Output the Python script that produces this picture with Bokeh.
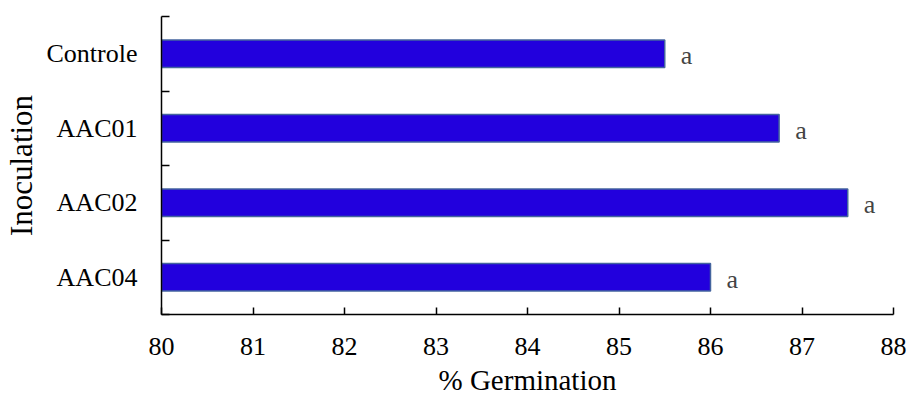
from bokeh.plotting import figure
from bokeh.models import ColumnDataSource, FixedTicker, Range1d
from bokeh.core.properties import value
from bokeh.embed import file_html
from bokeh.resources import INLINE

categories = ["Controle", "AAC01", "AAC02", "AAC04"]
germination = [85.5, 86.75, 87.5, 86.0]
letters = ["a", "a", "a", "a"]
x_ticks = [80, 81, 82, 83, 84, 85, 86, 87, 88]
x_title = "% Germination"
y_title = "Inoculation"

n = len(categories)
ypos = [n - 0.5 - i for i in range(n)]
x0, x1 = x_ticks[0], x_ticks[-1]

src = ColumnDataSource(dict(y=ypos, v=germination, cat=categories, lab=letters))

FONT = "Liberation Serif"

p = figure(width=909, height=398, output_backend="svg", toolbar_location=None,
           x_range=Range1d(x0, x1), y_range=Range1d(0, n),
           min_border_left=161, min_border_right=16, min_border_top=16, min_border_bottom=84)
p.outline_line_color = None
p.xgrid.grid_line_color = None
p.ygrid.grid_line_color = None
p.background_fill_color = "white"

p.hbar(y="y", left=x0, right="v", height=0.37, source=src,
       fill_color="#2200DD", line_color="#44649E", line_width=1.5)

p.text(x="v", y="y", text="lab", source=src, x_offset=16, y_offset=2,
       text_font=value(FONT), text_font_size="26px", text_color="#444444",
       text_align="left", text_baseline="middle")

# x axis
xa = p.xaxis[0]
xa.ticker = FixedTicker(ticks=x_ticks)
xa.axis_label = x_title
xa.axis_label_text_font = FONT
xa.axis_label_text_font_style = "normal"
xa.axis_label_text_font_size = "29px"
xa.axis_label_text_color = "black"
xa.axis_label_text_line_height = 0.25
xa.axis_label_standoff = 6
xa.major_label_text_font = FONT
xa.major_label_text_font_size = "26px"
xa.major_label_text_color = "black"
xa.major_label_standoff = 23
xa.major_tick_in = 7
xa.major_tick_out = 0
xa.minor_tick_line_color = None
xa.axis_line_width = 1.5
xa.major_tick_line_width = 1.5
xa.axis_line_color = "black"

# y axis
ya = p.yaxis[0]
ya.ticker = FixedTicker(ticks=ypos, minor_ticks=list(range(n + 1)))
ya.major_label_overrides = {y: c for y, c in zip(ypos, categories)}
ya.axis_label = y_title
ya.axis_label_text_font = FONT
ya.axis_label_text_font_style = "normal"
ya.axis_label_text_font_size = "31px"
ya.axis_label_text_color = "black"
ya.axis_label_standoff = 5
ya.major_label_text_font = FONT
ya.major_label_text_font_size = "26px"
ya.major_label_text_color = "black"
ya.major_label_standoff = 24
ya.major_tick_in = 0
ya.major_tick_out = 0
ya.minor_tick_in = 8
ya.minor_tick_out = 0
ya.minor_tick_line_width = 1.5
ya.axis_line_width = 1.5
ya.axis_line_color = "black"

open("out.html", "w").write(file_html(p, INLINE))
